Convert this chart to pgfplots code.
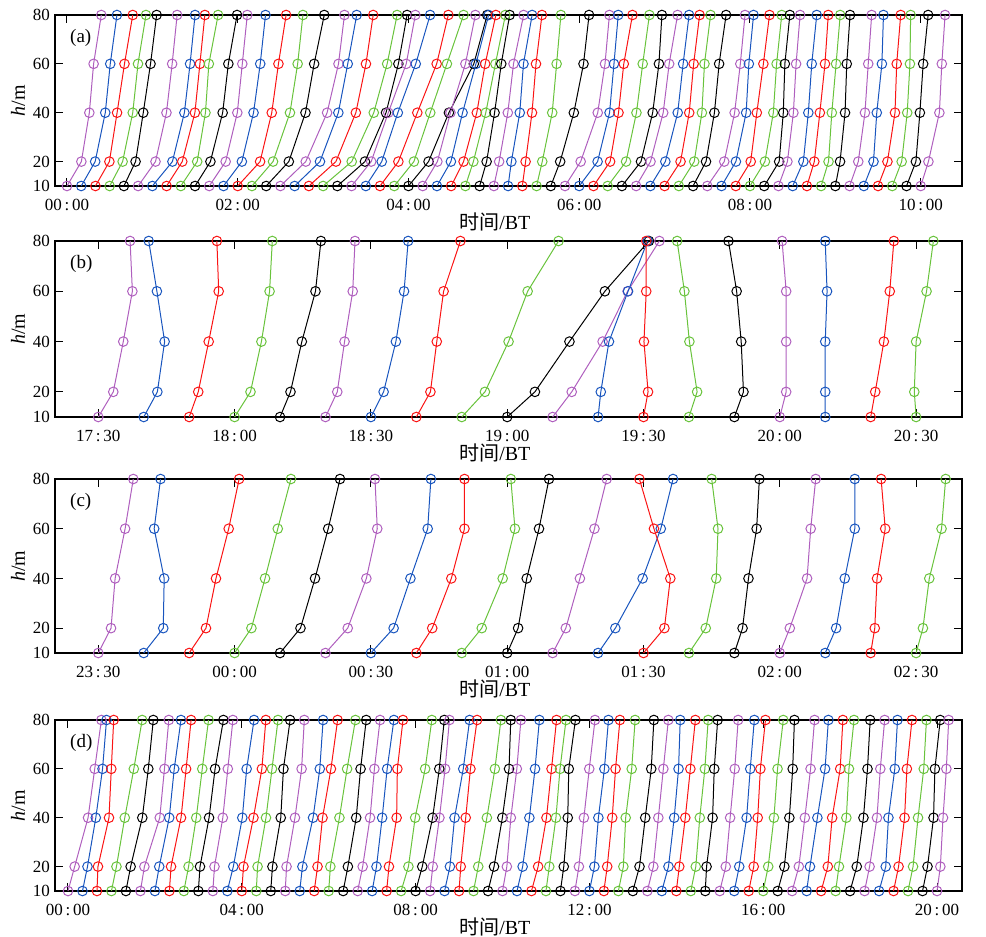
\documentclass[border=0pt]{standalone}
\usepackage{pgfplots}
\pgfplotsset{compat=1.18}
\usepackage{fontspec}
\setmainfont{Liberation Serif}
\newfontfamily\cjk{Noto Sans CJK SC}
\definecolor{cpur}{RGB}{175,95,190}
\definecolor{cblu}{RGB}{25,85,190}
\definecolor{cred}{RGB}{250,20,20}
\definecolor{cgrn}{RGB}{105,195,60}
\newcommand\tl[2]{#1\kern1.4pt:\kern1.4pt#2}
\pgfplotscreateplotcyclelist{prof}{{cpur,mark=o},{cblu,mark=o},{cred,mark=o},{cgrn,mark=o},{black,mark=o}}
\pgfplotsset{
 panel/.style={
  scale only axis, width=453.5pt, anchor=north west,
  ymin=10, ymax=80, ytick={10,20,40,60,80}, yticklabels={10,20,40,60,80},
  clip=false,
  cycle list name=prof,
  every axis plot/.append style={line width=0.5pt, mark size=2.4pt, mark options={solid, line width=0.5pt}},
  tick align=inside, major tick length=4pt,
  every tick/.style={black, line width=0.5pt},
  axis line style={line width=0.6pt},
  tick label style={font=\fontsize{8.5}{10}\selectfont},
  xticklabel style={anchor=center, yshift=-9.5pt},
  yticklabel style={anchor=east, xshift=1pt},
  xlabel={{\cjk 时间}/BT},
  xlabel style={at={(axis description cs:0.485,0)}, anchor=center, yshift=-18pt, font=\fontsize{10}{12}\selectfont},
  ylabel={\textit{h}/m},
  ylabel style={at={(axis description cs:-0.0408,0.5)}, anchor=center, font=\fontsize{10}{12}\selectfont},
 }}
\begin{document}
\begin{tikzpicture}
\useasboundingbox (0,0) rectangle (493pt,-468.5pt);
% ---------------- (a)
\begin{axis}[panel, at={(27.5pt,-7.5pt)}, height=85.5pt,
  xmin=-8.43, xmax=629, xtick={0,120,240,360,480,600},
  xticklabels={\tl{00}{00},\tl{02}{00},\tl{04}{00},\tl{06}{00},\tl{08}{00},\tl{10}{00}}]
\node[anchor=west, font=\fontsize{9.5}{11}\selectfont] at (axis description cs:0.009,0.865) {(a)};
\addplot coordinates {(0,10)(10.1,20)(15.7,40)(18.7,60)(24.1,80)};
\addplot coordinates {(10,10)(19.8,20)(26.9,40)(30.4,60)(35.1,80)};
\addplot coordinates {(20,10)(29.8,20)(35.2,40)(40.4,60)(46.2,80)};
\addplot coordinates {(30,10)(39.1,20)(46.2,40)(49.9,60)(55.5,80)};
\addplot coordinates {(40,10)(48.2,20)(53.6,40)(58.7,60)(63.0,80)};
\addplot coordinates {(50,10)(62.2,20)(69.9,40)(73.9,60)(77.4,80)};
\addplot coordinates {(60,10)(74.1,20)(82.5,40)(86.5,60)(90.0,80)};
\addplot coordinates {(70,10)(81.0,20)(89.9,40)(93.4,60)(96.9,80)};
\addplot coordinates {(80,10)(91.5,20)(97.3,40)(99.7,60)(106.2,80)};
\addplot coordinates {(90,10)(100.8,20)(109.4,40)(113.4,60)(119.5,80)};
\addplot coordinates {(100,10)(111.5,20)(119.7,40)(123.2,60)(126.7,80)};
\addplot coordinates {(110,10)(122.9,20)(131.1,40)(135.8,60)(139.5,80)};
\addplot coordinates {(120,10)(135.7,20)(143.9,40)(148.6,60)(154.0,80)};
\addplot coordinates {(130,10)(144.8,20)(156.7,40)(162.1,60)(165.8,80)};
\addplot coordinates {(140,10)(155.9,20)(167.6,40)(173.7,60)(180.8,80)};
\addplot coordinates {(150,10)(167.8,20)(182.8,40)(190.8,60)(195.0,80)};
\addplot coordinates {(160,10)(177.8,20)(190.7,40)(197.3,60)(203.6,80)};
\addplot coordinates {(170,10)(189.0,20)(203.0,40)(210.1,60)(215.2,80)};
\addplot coordinates {(180,10)(200.1,20)(215.6,40)(225.0,60)(232.0,80)};
\addplot coordinates {(190,10)(209.4,20)(224.2,40)(232.9,60)(239.0,80)};
\addplot coordinates {(200,10)(213.8,20)(225.8,40)(238.4,60)(244.8,80)};
\addplot coordinates {(210,10)(221.2,20)(232.5,40)(245.1,60)(255.2,80)};
\addplot coordinates {(220,10)(232.9,20)(246.2,40)(259.8,60)(268.0,80)};
\addplot coordinates {(230,10)(243.8,20)(255.3,40)(267.0,60)(278.7,80)};
\addplot coordinates {(240,10)(254.1,20)(268.4,40)(285.9,60)(295.3,80)};
\addplot coordinates {(250,10)(260.3,20)(269.5,40)(280.0,60)(287.0,80)};
\addplot coordinates {(260,10)(269.8,20)(278.0,40)(287.4,60)(296.3,80)};
\addplot coordinates {(270,10)(278.7,20)(288.0,40)(293.9,60)(301.4,80)};
\addplot coordinates {(280,10)(285.6,20)(294.3,40)(301.1,60)(308.1,80)};
\addplot coordinates {(290,10)(294.9,20)(300.5,40)(305.2,60)(311.1,80)};
\addplot coordinates {(300,10)(303.7,20)(309.8,40)(313.8,60)(320.9,80)};
\addplot coordinates {(310,10)(312.3,20)(318.2,40)(320.8,60)(326.9,80)};
\addplot coordinates {(320,10)(322.3,20)(326.8,40)(329.6,60)(333.8,80)};
\addplot coordinates {(330,10)(334.0,20)(341.0,40)(344.1,60)(347.1,80)};
\addplot coordinates {(340,10)(346.6,20)(356.2,40)(363.0,60)(366.9,80)};
\addplot coordinates {(350,10)(361.0,20)(373.0,40)(378.1,60)(381.2,80)};
\addplot coordinates {(360,10)(372.9,20)(381.3,40)(384.4,60)(387.4,80)};
\addplot coordinates {(370,10)(381.7,20)(387.6,40)(391.3,60)(397.4,80)};
\addplot coordinates {(380,10)(392.9,20)(400.2,40)(404.6,60)(409.3,80)};
\addplot coordinates {(390,10)(403.4,20)(411.6,40)(416.0,60)(418.1,80)};
\addplot coordinates {(400,10)(410.1,20)(419.0,40)(423.2,60)(429.1,80)};
\addplot coordinates {(410,10)(420.5,20)(429.2,40)(433.0,60)(437.2,80)};
\addplot coordinates {(420,10)(431.2,20)(437.3,40)(440.4,60)(444.6,80)};
\addplot coordinates {(430,10)(440.8,20)(446.2,40)(448.0,60)(452.3,80)};
\addplot coordinates {(440,10)(449.1,20)(455.0,40)(458.3,60)(463.2,80)};
\addplot coordinates {(450,10)(461.9,20)(469.2,40)(473.2,60)(476.5,80)};
\addplot coordinates {(460,10)(470.1,20)(477.3,40)(479.2,60)(482.5,80)};
\addplot coordinates {(470,10)(480.5,20)(484.8,40)(489.4,60)(493.7,80)};
\addplot coordinates {(480,10)(490.5,20)(496.4,40)(498.7,60)(502.3,80)};
\addplot coordinates {(490,10)(500.5,20)(503.4,40)(504.5,60)(508.0,80)};
\addplot coordinates {(500,10)(506.3,20)(510.5,40)(512.4,60)(515.2,80)};
\addplot coordinates {(510,10)(517.5,20)(521.0,40)(523.4,60)(526.9,80)};
\addplot coordinates {(520,10)(525.2,20)(529.1,40)(532.7,60)(535.0,80)};
\addplot coordinates {(530,10)(535.2,20)(537.5,40)(540.5,60)(543.4,80)};
\addplot coordinates {(540,10)(543.3,20)(546.8,40)(548.0,60)(550.3,80)};
\addplot coordinates {(550,10)(556.1,20)(560.8,40)(563.1,60)(565.5,80)};
\addplot coordinates {(560,10)(566.8,20)(569.1,40)(572.7,60)(573.8,80)};
\addplot coordinates {(570,10)(576.6,20)(581.9,40)(583.1,60)(585.9,80)};
\addplot coordinates {(580,10)(586.6,20)(590.5,40)(592.4,60)(592.9,80)};
\addplot coordinates {(590,10)(596.6,20)(599.4,40)(601.7,60)(605.2,80)};
\addplot coordinates {(600,10)(605.4,20)(613.1,40)(614.8,60)(617.1,80)};
\end{axis}
% ---------------- (b)
\begin{axis}[panel, at={(27.5pt,-120.5pt)}, height=88pt,
  xmin=-9.53, xmax=190.1, xtick={0,30,60,90,120,150,180},
  xticklabels={\tl{17}{30},\tl{18}{00},\tl{18}{30},\tl{19}{00},\tl{19}{30},\tl{20}{00},\tl{20}{30}}]
\node[anchor=west, font=\fontsize{9.5}{11}\selectfont] at (axis description cs:0.009,0.87) {(b)};
\addplot coordinates {(0,10)(3.3,20)(5.5,40)(7.5,60)(7.0,80)};
\addplot coordinates {(10,10)(13.0,20)(14.6,40)(12.9,60)(11.1,80)};
\addplot coordinates {(20,10)(22.0,20)(24.3,40)(26.5,60)(26.1,80)};
\addplot coordinates {(30,10)(33.5,20)(35.9,40)(37.7,60)(38.3,80)};
\addplot coordinates {(40,10)(42.3,20)(44.8,40)(47.8,60)(49.0,80)};
\addplot coordinates {(50,10)(52.6,20)(54.2,40)(56.0,60)(56.5,80)};
\addplot coordinates {(60,10)(62.8,20)(65.5,40)(67.3,60)(68.2,80)};
\addplot coordinates {(70,10)(73.1,20)(74.5,40)(76.0,60)(79.7,80)};
\addplot coordinates {(80,10)(85.1,20)(90.3,40)(94.5,60)(101.3,80)};
\addplot coordinates {(90,10)(96.1,20)(103.7,40)(111.5,60)(121.2,80)};
\addplot coordinates {(100,10)(104.2,20)(111.0,40)(116.5,60)(123.5,80)};
\addplot coordinates {(110,10)(110.6,20)(112.4,40)(116.6,60)(120.9,80)};
\addplot coordinates {(120,10)(121.0,20)(120.1,40)(120.6,60)(120.6,80)};
\addplot coordinates {(130,10)(131.8,20)(130.1,40)(129.0,60)(127.4,80)};
\addplot coordinates {(140,10)(142.0,20)(141.5,40)(140.5,60)(138.7,80)};
\addplot coordinates {(150,10)(151.4,20)(151.4,40)(151.4,60)(150.5,80)};
\addplot coordinates {(160,10)(160.0,20)(160.0,40)(160.4,60)(160.0,80)};
\addplot coordinates {(170,10)(171.0,20)(172.9,40)(174.2,60)(175.1,80)};
\addplot coordinates {(180,10)(179.6,20)(180.0,40)(182.3,60)(183.8,80)};
\end{axis}
% ---------------- (c)
\begin{axis}[panel, at={(27.5pt,-239.5pt)}, height=87pt,
  xmin=-9.53, xmax=190.1, xtick={0,30,60,90,120,150,180},
  xticklabels={\tl{23}{30},\tl{00}{00},\tl{00}{30},\tl{01}{00},\tl{01}{30},\tl{02}{00},\tl{02}{30}}]
\node[anchor=west, font=\fontsize{9.5}{11}\selectfont] at (axis description cs:0.009,0.87) {(c)};
\addplot coordinates {(0,10)(2.8,20)(3.7,40)(5.9,60)(7.7,80)};
\addplot coordinates {(10,10)(14.3,20)(14.5,40)(12.3,60)(13.7,80)};
\addplot coordinates {(20,10)(23.7,20)(25.9,40)(28.7,60)(31.0,80)};
\addplot coordinates {(30,10)(33.7,20)(36.7,40)(39.5,60)(42.4,80)};
\addplot coordinates {(40,10)(44.5,20)(47.7,40)(50.6,60)(53.2,80)};
\addplot coordinates {(50,10)(54.9,20)(59.0,40)(61.4,60)(60.9,80)};
\addplot coordinates {(60,10)(65.0,20)(68.7,40)(72.5,60)(73.2,80)};
\addplot coordinates {(70,10)(73.5,20)(77.7,40)(80.6,60)(80.6,80)};
\addplot coordinates {(80,10)(84.4,20)(89.0,40)(91.7,60)(90.8,80)};
\addplot coordinates {(90,10)(92.4,20)(94.3,40)(97.0,60)(99.2,80)};
\addplot coordinates {(100,10)(102.9,20)(106.0,40)(109.2,60)(111.9,80)};
\addplot coordinates {(110,10)(113.8,20)(119.8,40)(123.8,60)(126.5,80)};
\addplot coordinates {(120,10)(124.6,20)(125.9,40)(122.3,60)(119.1,80)};
\addplot coordinates {(130,10)(133.7,20)(136.0,40)(136.4,60)(135.0,80)};
\addplot coordinates {(140,10)(141.8,20)(143.1,40)(144.9,60)(145.5,80)};
\addplot coordinates {(150,10)(152.2,20)(156.0,40)(156.8,60)(157.9,80)};
\addplot coordinates {(160,10)(162.4,20)(164.3,40)(166.5,60)(166.5,80)};
\addplot coordinates {(170,10)(170.9,20)(171.4,40)(173.2,60)(172.3,80)};
\addplot coordinates {(180,10)(181.5,20)(182.9,40)(185.6,60)(186.5,80)};
\end{axis}
% ---------------- (d)
\begin{axis}[panel, at={(27.5pt,-360pt)}, height=85.5pt,
  xmin=-17.95, xmax=1234.5, xtick={0,240,480,720,960,1200},
  xticklabels={\tl{00}{00},\tl{04}{00},\tl{08}{00},\tl{12}{00},\tl{16}{00},\tl{20}{00}}]
\node[anchor=west, font=\fontsize{9.5}{11}\selectfont] at (axis description cs:0.009,0.865) {(d)};
\addplot coordinates {(0,10)(9.2,20)(27.7,40)(36.9,60)(46.1,80)};
\addplot coordinates {(20,10)(26.9,20)(38.4,40)(47.7,60)(53.2,80)};
\addplot coordinates {(40,10)(41.4,20)(56.6,40)(59.8,60)(63.1,80)};
\addplot coordinates {(60,10)(66.9,20)(78.4,40)(90.9,60)(102.4,80)};
\addplot coordinates {(80,10)(86.5,20)(102.6,40)(110.9,60)(117.8,80)};
\addplot coordinates {(100,10)(105.5,20)(126.7,40)(133.2,60)(139.2,80)};
\addplot coordinates {(120,10)(126.0,20)(139.8,40)(146.7,60)(156.0,80)};
\addplot coordinates {(140,10)(142.3,20)(156.1,40)(163.1,60)(170.0,80)};
\addplot coordinates {(160,10)(166.5,20)(177.1,40)(185.4,60)(194.1,80)};
\addplot coordinates {(180,10)(182.3,20)(194.8,40)(203.1,60)(214.6,80)};
\addplot coordinates {(200,10)(202.3,20)(213.8,40)(220.7,60)(227.7,80)};
\addplot coordinates {(220,10)(228.3,20)(240.7,40)(246.7,60)(256.9,80)};
\addplot coordinates {(240,10)(242.3,20)(256.1,40)(267.7,60)(273.2,80)};
\addplot coordinates {(260,10)(261.8,20)(273.4,40)(281.7,60)(290.0,80)};
\addplot coordinates {(280,10)(282.3,20)(293.8,40)(297.5,60)(306.7,80)};
\addplot coordinates {(300,10)(301.8,20)(313.4,40)(322.6,60)(326.3,80)};
\addplot coordinates {(320,10)(323.7,20)(338.4,40)(347.7,60)(352.3,80)};
\addplot coordinates {(340,10)(344.6,20)(351.5,40)(363.1,60)(372.3,80)};
\addplot coordinates {(360,10)(362.3,20)(374.8,40)(385.4,60)(396.9,80)};
\addplot coordinates {(380,10)(386.5,20)(398.0,40)(404.0,60)(411.8,80)};
\addplot coordinates {(400,10)(406.9,20)(417.1,40)(423.1,60)(430.9,80)};
\addplot coordinates {(420,10)(426.0,20)(433.8,40)(440.7,60)(450.0,80)};
\addplot coordinates {(440,10)(443.2,20)(453.8,40)(454.8,60)(462.6,80)};
\addplot coordinates {(460,10)(470.1,20)(479.4,40)(493.2,60)(502.4,80)};
\addplot coordinates {(480,10)(489.2,20)(503.5,40)(512.7,60)(519.6,80)};
\addplot coordinates {(500,10)(503.7,20)(512.9,40)(520.7,60)(526.7,80)};
\addplot coordinates {(520,10)(527.4,20)(533.8,40)(545.8,60)(554.6,80)};
\addplot coordinates {(540,10)(542.3,20)(549.2,40)(555.7,60)(564.9,80)};
\addplot coordinates {(560,10)(566.5,20)(578.4,40)(589.5,60)(597.8,80)};
\addplot coordinates {(580,10)(588.3,20)(599.8,40)(609.0,60)(611.4,80)};
\addplot coordinates {(600,10)(606.0,20)(611.5,40)(619.8,60)(625.4,80)};
\addplot coordinates {(620,10)(627.8,20)(637.1,40)(644.9,60)(650.9,80)};
\addplot coordinates {(640,10)(649.2,20)(660.7,40)(667.7,60)(674.6,80)};
\addplot coordinates {(660,10)(664.6,20)(673.8,40)(679.4,60)(687.7,80)};
\addplot coordinates {(680,10)(684.6,20)(690.1,40)(691.5,60)(700.7,80)};
\addplot coordinates {(700,10)(705.5,20)(712.4,40)(719.8,60)(727.7,80)};
\addplot coordinates {(720,10)(726.9,20)(732.4,40)(740.7,60)(746.3,80)};
\addplot coordinates {(740,10)(744.6,20)(751.5,40)(756.1,60)(762.1,80)};
\addplot coordinates {(760,10)(766.9,20)(770.1,40)(778.4,60)(783.1,80)};
\addplot coordinates {(780,10)(789.2,20)(797.1,40)(805.4,60)(809.0,80)};
\addplot coordinates {(800,10)(808.3,20)(815.2,40)(822.1,60)(829.0,80)};
\addplot coordinates {(820,10)(829.2,20)(837.1,40)(843.1,60)(845.4,80)};
\addplot coordinates {(840,10)(844.1,20)(852.4,40)(859.4,60)(866.3,80)};
\addplot coordinates {(860,10)(866.9,20)(872.4,40)(879.4,60)(884.0,80)};
\addplot coordinates {(880,10)(881.8,20)(890.1,40)(892.4,60)(897.1,80)};
\addplot coordinates {(900,10)(908.3,20)(914.3,40)(920.7,60)(925.4,80)};
\addplot coordinates {(920,10)(926.9,20)(937.1,40)(942.1,60)(947.7,80)};
\addplot coordinates {(940,10)(946.9,20)(952.4,40)(956.1,60)(963.1,80)};
\addplot coordinates {(960,10)(966.9,20)(974.8,40)(979.8,60)(987.7,80)};
\addplot coordinates {(980,10)(989.2,20)(996.1,40)(1000.7,60)(1003.1,80)};
\addplot coordinates {(1000,10)(1009.2,20)(1017.5,40)(1025.4,60)(1030.9,80)};
\addplot coordinates {(1020,10)(1024.6,20)(1034.8,40)(1045.4,60)(1050.0,80)};
\addplot coordinates {(1040,10)(1049.2,20)(1055.2,40)(1066.3,60)(1070.0,80)};
\addplot coordinates {(1060,10)(1064.6,20)(1074.8,40)(1078.4,60)(1085.4,80)};
\addplot coordinates {(1080,10)(1089.2,20)(1098.4,40)(1104.0,60)(1107.7,80)};
\addplot coordinates {(1100,10)(1106.9,20)(1117.1,40)(1121.7,60)(1127.7,80)};
\addplot coordinates {(1120,10)(1129.2,20)(1132.9,40)(1141.7,60)(1145.4,80)};
\addplot coordinates {(1140,10)(1146.9,20)(1155.2,40)(1158.4,60)(1165.4,80)};
\addplot coordinates {(1160,10)(1166.9,20)(1173.8,40)(1181.7,60)(1185.4,80)};
\addplot coordinates {(1180,10)(1186.9,20)(1195.2,40)(1197.1,60)(1204.4,80)};
\addplot coordinates {(1200,10)(1204.6,20)(1208.3,40)(1212.9,60)(1216.1,80)};
\end{axis}
\end{tikzpicture}
\end{document}
